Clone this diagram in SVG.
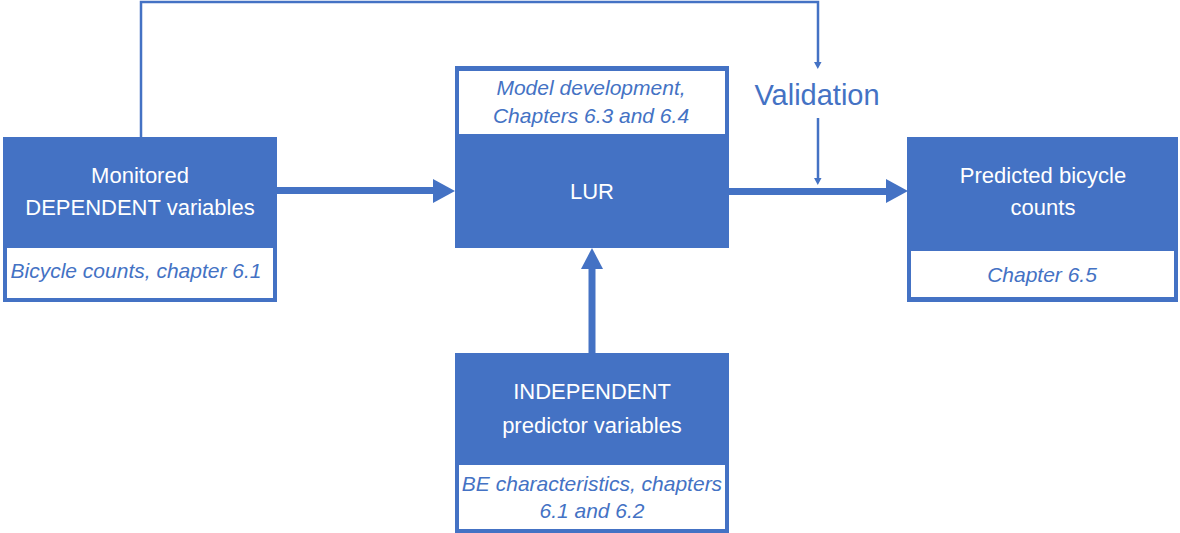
<svg xmlns="http://www.w3.org/2000/svg" width="1180" height="533" viewBox="0 0 1180 533">
<style>
.box{fill:#4472C4}
.inner{fill:#FFFFFF}
.t{font-family:"Liberation Sans",Arial,sans-serif;font-size:22px;fill:#FFFFFF;text-anchor:middle}
.i{font-family:"Liberation Sans",Arial,sans-serif;font-size:21px;font-style:italic;fill:#4472C4;text-anchor:middle}
.v{font-family:"Liberation Sans",Arial,sans-serif;font-size:29px;fill:#4472C4;text-anchor:middle}
.thin{fill:none;stroke:#4472C4;stroke-width:2.5}
.thick{fill:none;stroke:#4472C4;stroke-width:7}
.head{fill:#4472C4}
</style>
<rect width="1180" height="533" fill="#FFFFFF"/>
<g id="connectors">
<polyline class="thin" points="141,137 141,2 818,2 818,63"/>
<polygon class="head" points="814,62 821.5,62 817.8,69"/>
<line class="thin" x1="818" y1="118" x2="818" y2="179"/>
<polygon class="head" points="814,178 821.5,178 817.8,185"/>
<line class="thick" x1="277" y1="190.5" x2="434" y2="190.5"/>
<polygon class="head" points="433,179 433,203 455,191"/>
<line class="thick" x1="729" y1="191.5" x2="887" y2="191.5"/>
<polygon class="head" points="886,179 886,203 908,191"/>
<line class="thick" x1="592" y1="353" x2="592" y2="268"/>
<polygon class="head" points="581,269 603,269 592,248"/>
</g>
<g id="monitored">
<rect class="box" x="3" y="137" width="274" height="165"/>
<rect class="inner" x="7" y="248" width="266" height="50"/>
<text class="t" x="140" y="183">Monitored</text>
<text class="t" x="140" y="215">DEPENDENT variables</text>
<text class="i" x="136" y="278">Bicycle counts, chapter 6.1</text>
</g>
<g id="lur">
<rect class="box" x="455" y="66" width="274" height="182"/>
<rect class="inner" x="459" y="71" width="266" height="63"/>
<text class="i" x="591" y="95">Model development,</text>
<text class="i" x="591" y="123">Chapters 6.3 and 6.4</text>
<text class="t" x="592" y="199">LUR</text>
</g>
<g id="validation">
<text class="v" x="817" y="105">Validation</text>
</g>
<g id="predicted">
<rect class="box" x="907" y="137" width="271" height="165"/>
<rect class="inner" x="911" y="251" width="263" height="46"/>
<text class="t" x="1043" y="183">Predicted bicycle</text>
<text class="t" x="1043" y="215">counts</text>
<text class="i" x="1042" y="282">Chapter 6.5</text>
</g>
<g id="independent">
<rect class="box" x="455" y="353" width="274" height="180"/>
<rect class="inner" x="459" y="465" width="266" height="64"/>
<text class="t" x="592" y="399">INDEPENDENT</text>
<text class="t" x="592" y="433">predictor variables</text>
<text class="i" x="592" y="491">BE characteristics, chapters</text>
<text class="i" x="592" y="518">6.1 and 6.2</text>
</g>
</svg>
